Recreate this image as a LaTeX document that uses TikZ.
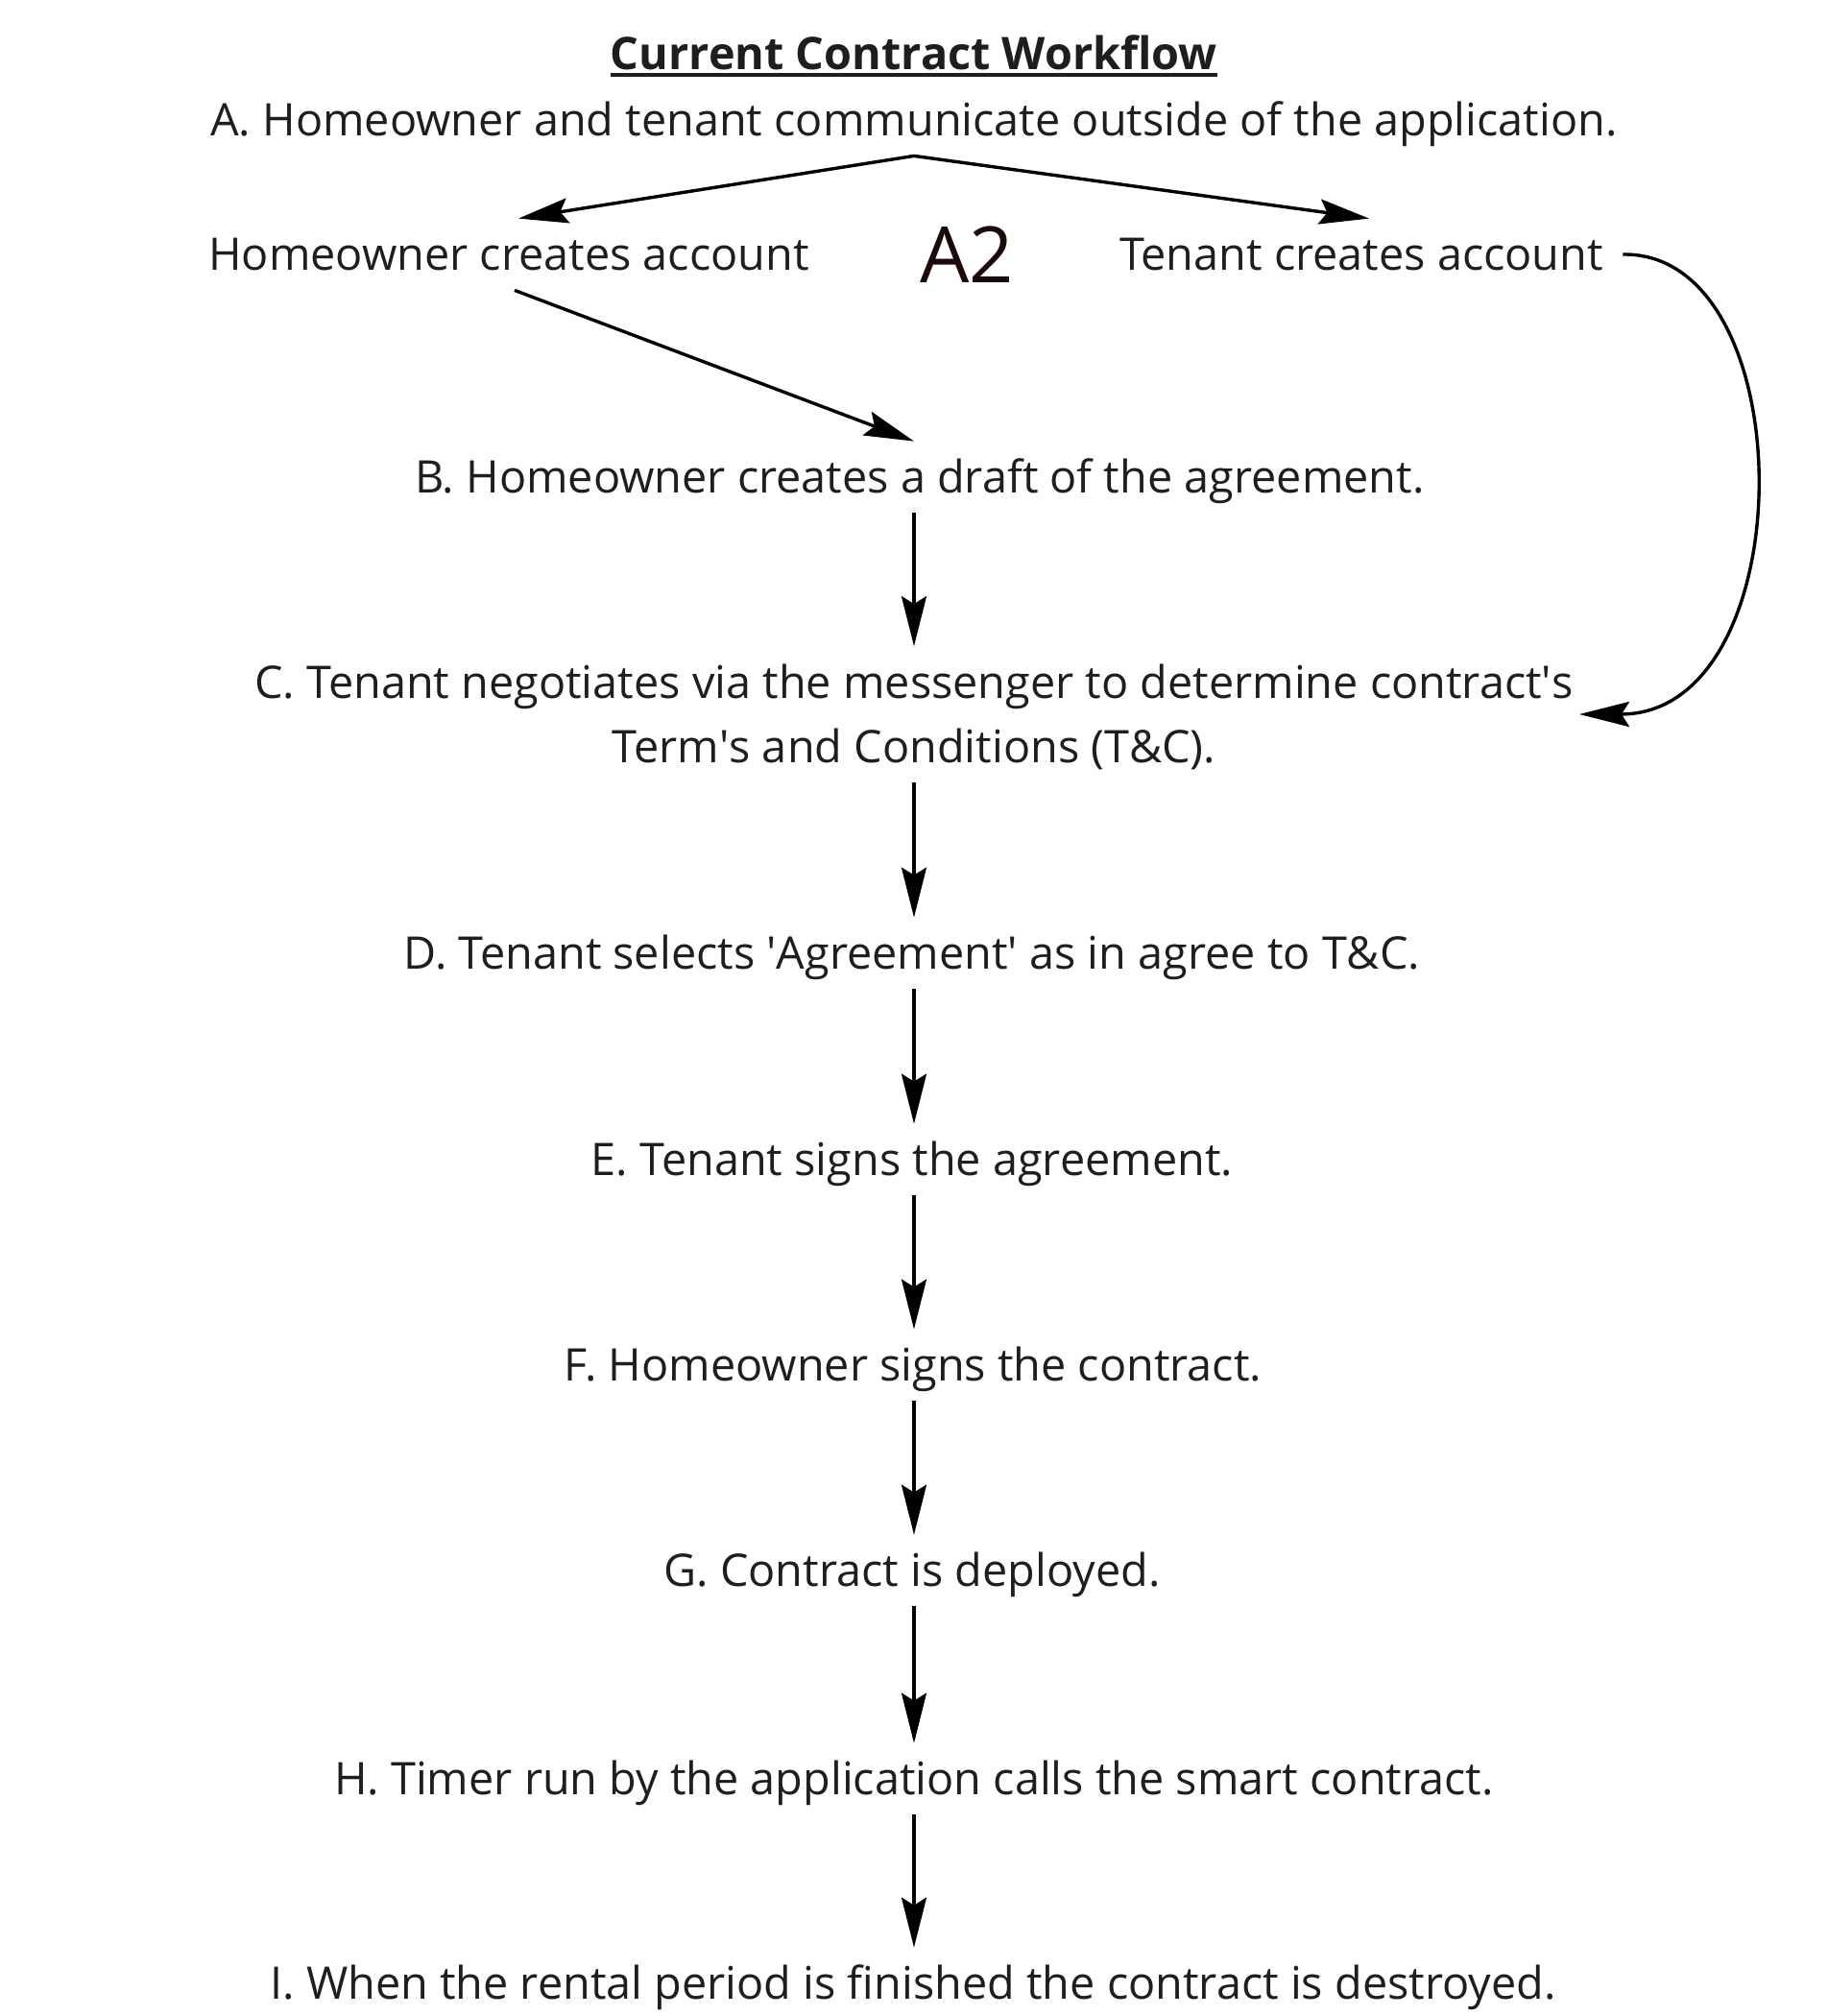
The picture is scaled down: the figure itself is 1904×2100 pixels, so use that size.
\documentclass[tikz,border=0pt]{standalone}
\usepackage{fontspec}
\setmainfont{Open Sans}
\usepackage{tikz}
\usetikzlibrary{arrows.meta}
\definecolor{ink}{HTML}{1E1E1E}
\definecolor{tagink}{HTML}{1A0A0A}
\tikzstyle{stage}=[inner sep=0pt, text=ink, font=\fontsize{23.4}{33.5}\selectfont, text height=26.85pt, text depth=10.15pt]
\tikzstyle{heading}=[inner sep=0pt, text=ink, font=\fontsize{23.4}{28}\selectfont\bfseries]
\tikzstyle{tag}=[inner sep=0pt, text=tagink, font=\fontsize{40.5}{44}\selectfont]
\tikzstyle{l}=[draw, line width=1.7pt, -{Stealth[length=26pt,width=13pt,inset=4pt]}]

\begin{document}
\begin{tikzpicture}[x=0.5pt, y=-0.5pt]
\useasboundingbox (0,0) rectangle (1904,2100);

% title
\node[heading, anchor=base] (title) at (952,72) {Current Contract Workflow};
\draw[ink, line width=2pt] ([yshift=-3pt]title.base west) -- ([yshift=-3pt]title.base east);

% accounts
\node[stage] (a) at (952,125) {A. Homeowner and tenant communicate outside of the application.};
\node[stage] (ho) at (530,265) {Homeowner creates account};
\node[tag] (a2) at (1007,265) {A2};
\node[stage] (tn) at (1418,265) {Tenant creates account};

% steps
\node[stage] (b) at (958,497) {B. Homeowner creates a draft of the agreement.};
\node[stage, align=center, text height=60.35pt] (c) at (952,744) {C. Tenant negotiates via the messenger to determine contract\textquotesingle s\\Term\textquotesingle s and Conditions (T\&C).};
\node[stage] (d) at (950,993) {D. Tenant selects \textquotesingle Agreement\textquotesingle{} as in agree to T\&C.};
\node[stage] (e) at (950,1208) {E. Tenant signs the agreement.};
\node[stage] (f) at (951,1422) {F. Homeowner signs the contract.};
\node[stage] (g) at (950,1636) {G. Contract is deployed.};
\node[stage] (h) at (952,1853) {H. Timer run by the application calls the smart contract.};
\node[stage] (i) at (951,2066) {I. When the rental period is finished the contract is destroyed.};

%paths
\path [l] (a.south) -- ([xshift=5pt]ho.north);
\path [l] (a.south) -- ([xshift=4pt]tn.north);
\path [l] ([xshift=3pt]ho.south) -- ([xshift=-3pt]b.north);
\path [l] (tn.east) ++(20,0) .. controls (1880,262) and (1880,744) .. ([xshift=3pt]c.east);

\path [l] (b.south -| c.south) -- (c.north);
\path [l] (c.south) -- (d.north -| c.south);
\path [l] (d.south -| c.south) -- (e.north -| c.south);
\path [l] (e.south -| c.south) -- (f.north -| c.south);
\path [l] (f.south -| c.south) -- (g.north -| c.south);
\path [l] (g.south -| c.south) -- (h.north -| c.south);
\path [l] (h.south -| c.south) -- (i.north -| c.south);

\end{tikzpicture}
\end{document}
